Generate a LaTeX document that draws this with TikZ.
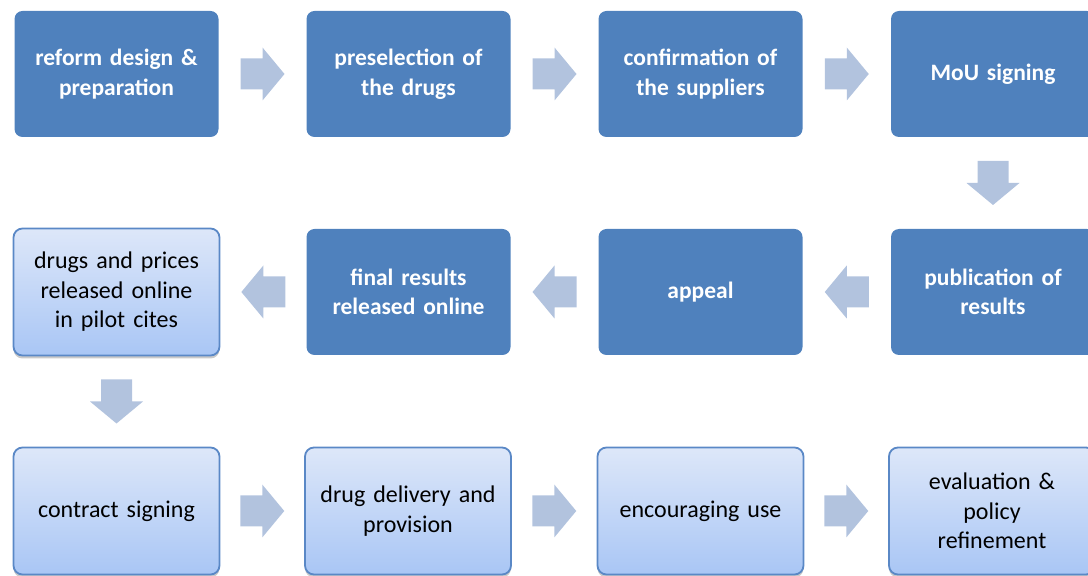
\documentclass[tikz,border=0pt]{standalone}
\usepackage{fontspec}
\setmainfont[WordSpace=0.55]{Carlito}
\usetikzlibrary{shadows,calc}
\definecolor{darkstep}{HTML}{4F81BD}
\definecolor{lighttop}{HTML}{DDE7F9}
\definecolor{lightbot}{HTML}{A9C6F5}
\definecolor{lightedge}{HTML}{5A88C6}
\definecolor{arrowfill}{HTML}{B2C3DE}
\tikzset{
  x=1pt, y=1pt,
  darkbox/.style={rectangle, rounded corners=8pt, fill=darkstep, draw=none,
    minimum width=204pt, minimum height=126pt, text width=196pt, align=center,
    text=white, font=\fontsize{23.5}{29.5}\selectfont\bfseries},
  lightbox/.style={rectangle, rounded corners=9pt, draw=lightedge, line width=1.8pt,
    top color=lighttop, bottom color=lightbot,
    drop shadow={shadow xshift=0pt, shadow yshift=-3pt, opacity=0.35, fill=black!60},
    minimum width=206pt, minimum height=127pt, text width=196pt, align=center,
    text=black, font=\fontsize{24}{29.5}\selectfont},
  blockarrow/.pic={\fill[arrowfill] (-22,-15.5) -- (0,-15.5) -- (0,-26.5) -- (22,0)
    -- (0,26.5) -- (0,15.5) -- (-22,15.5) -- cycle;}
}
\begin{document}
\begin{tikzpicture}
\useasboundingbox (0,0) rectangle (1088,576);
\begin{scope}
\clip (0,0) rectangle (1088,576);
% first row: preparation steps
\node[darkbox] (a1) at (116.5,502) {reform design \&\\preparation};
\node[darkbox] (a2) at (408.5,502) {preselection of\\the drugs};
\node[darkbox] (a3) at (700.5,502) {confirmation of\\the suppliers};
\node[darkbox] (a4) at (993,502) {MoU signing};
% second row: results, right to left
\node[darkbox] (b4) at (993,284) {publication of\\results};
\node[darkbox] (b3) at (700.5,284) {appeal};
\node[darkbox] (b2) at (408.5,284) {final results\\released online};
\node[lightbox] (b1) at (116.5,284) {drugs and prices\\released online\\in pilot cites};
% third row: implementation
\node[lightbox] (c1) at (116.5,65) {contract signing};
\node[lightbox] (c2) at (408,65) {drug delivery and\\provision};
\node[lightbox] (c3) at (700.5,65) {encouraging use};
\node[lightbox] (c4) at (992,65) {evaluation \&\\policy\\refinement};
% block arrows between the steps
\pic at ($(a1.east)!0.5!(a2.west)$) {blockarrow};
\pic at ($(a2.east)!0.5!(a3.west)$) {blockarrow};
\pic at ($(a3.east)!0.5!(a4.west)$) {blockarrow};
\pic[rotate=-90] at ($(a4.south)!0.5!(b4.north)$) {blockarrow};
\pic[rotate=180] at ($(b4.west)!0.5!(b3.east)$) {blockarrow};
\pic[rotate=180] at ($(b3.west)!0.5!(b2.east)$) {blockarrow};
\pic[rotate=180] at ($(b2.west)!0.5!(b1.east)$) {blockarrow};
\pic[rotate=-90] at ($(b1.south)!0.5!(c1.north)$) {blockarrow};
\pic at ($(c1.east)!0.5!(c2.west)$) {blockarrow};
\pic at ($(c2.east)!0.5!(c3.west)$) {blockarrow};
\pic at ($(c3.east)!0.5!(c4.west)$) {blockarrow};
\end{scope}
\end{tikzpicture}
\end{document}
